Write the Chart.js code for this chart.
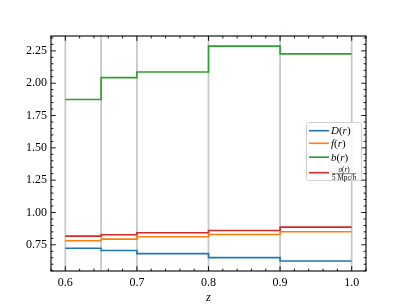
<!DOCTYPE html>
<html>
<head>
<meta charset="utf-8">
<script src="https://cdn.jsdelivr.net/npm/chart.js@4.4.0/dist/chart.umd.min.js"></script>
<style>
  html, body { margin: 0; padding: 0; background: #fff; }
  #caixa { width: 407px; height: 305px; }
</style>
</head>
<body>
<div id="caixa"><canvas id="grafico" width="407" height="305"></canvas></div>
<script>
// ==========================================
// 1. DADOS
// ==========================================

// bordas dos bins em z (também onde ficam as linhas cinzas)
const zBordas = [0.6, 0.65, 0.7, 0.8, 0.9, 1.0];

// valor de cada bin (5 bins)
const valD = [0.724, 0.706, 0.682, 0.651, 0.625];
const valF = [0.781, 0.794, 0.812, 0.830, 0.851];
const valB = [1.874, 2.043, 2.087, 2.287, 2.227];
const valSigma = [0.817, 0.828, 0.843, 0.861, 0.887];

const ticksX = [0.6, 0.7, 0.8, 0.9, 1.0];
const ticksY = [0.75, 1.0, 1.25, 1.5, 1.75, 2.0, 2.25];

const FONTE = "'Liberation Serif', 'DejaVu Serif', serif";

// transforma bins em pontos para linha em degrau
function degraus(vals) {
    return zBordas.map((z, i) => ({ x: z, y: vals[Math.min(i, vals.length - 1)] }));
}

// ==========================================
// 2. PLUGIN: linhas verticais, moldura, ticks internos, legenda
// ==========================================

function escreveRuns(ctx, runs, x, y, tam) {
    // runs: [texto, italico?]
    let cx = x;
    runs.forEach(([txt, ital]) => {
        ctx.font = (ital ? "italic " : "") + tam + "px " + FONTE;
        ctx.fillText(txt, cx, y);
        cx += ctx.measureText(txt).width;
    });
    return cx;
}

const extras = {
    id: "extras",
    beforeDatasetsDraw(chart) {
        const { ctx, chartArea: a, scales: { x } } = chart;
        ctx.save();
        ctx.strokeStyle = "#c8c8c8";
        ctx.lineWidth = 1.8;
        zBordas.forEach((z) => {
            const px = x.getPixelForValue(z);
            ctx.beginPath();
            ctx.moveTo(px, a.top);
            ctx.lineTo(px, a.bottom);
            ctx.stroke();
        });
        ctx.restore();
    },
    afterDatasetsDraw(chart) {
        const { ctx, chartArea: a, scales: { x, y } } = chart;
        ctx.save();
        ctx.strokeStyle = "#000";
        ctx.lineWidth = 0.9;

        const marca = (px, vertical, len) => {
            ctx.beginPath();
            if (vertical) {
                ctx.moveTo(px, a.bottom); ctx.lineTo(px, a.bottom - len);
                ctx.moveTo(px, a.top); ctx.lineTo(px, a.top + len);
            } else {
                ctx.moveTo(a.left, px); ctx.lineTo(a.left + len, px);
                ctx.moveTo(a.right, px); ctx.lineTo(a.right - len, px);
            }
            ctx.stroke();
        };

        // ticks maiores
        ticksX.forEach((v) => marca(x.getPixelForValue(v), true, 4.8));
        ticksY.forEach((v) => marca(y.getPixelForValue(v), false, 4.8));

        // ticks menores
        for (let i = 29; i <= 51; i++) {
            const v = i * 0.02;
            if (i % 5 === 0 || v < x.min || v > x.max) continue;
            marca(x.getPixelForValue(v), true, 2.4);
        }
        for (let i = 11; i <= 47; i++) {
            const v = i * 0.05;
            if (i % 5 === 0 || v < y.min || v > y.max) continue;
            marca(y.getPixelForValue(v), false, 2.4);
        }

        // moldura
        ctx.lineWidth = 1.1;
        ctx.strokeRect(a.left, a.top, a.right - a.left, a.bottom - a.top);
        ctx.restore();
    },
    afterDraw(chart) {
        const { ctx, data } = chart;
        ctx.save();
        // caixa da legenda
        const bx = 306.5, by = 122.5, bw = 55, bh = 58;
        ctx.fillStyle = "rgba(255,255,255,0.85)";
        ctx.strokeStyle = "#d0d0d0";
        ctx.lineWidth = 1;
        ctx.beginPath();
        ctx.roundRect(bx, by, bw, bh, 2);
        ctx.fill();
        ctx.stroke();

        const linhasY = [130.7, 143.3, 157.2, 172.7];
        const textos = [
            [["D", true], ["(", false], ["r", true], [")", false]],
            [["f", true], ["(", false], ["r", true], [")", false]],
            [["b", true], ["(", false], ["r", true], [")", false]],
        ];
        data.datasets.forEach((ds, i) => {
            const ly = linhasY[i];
            ctx.strokeStyle = ds.borderColor;
            ctx.lineWidth = 1.6;
            ctx.beginPath();
            ctx.moveTo(309, ly);
            ctx.lineTo(329, ly);
            ctx.stroke();
            ctx.fillStyle = "#000";
            ctx.textBaseline = "middle";
            if (i < 3) {
                escreveRuns(ctx, textos[i], 331, ly + 0.5, 11);
            } else {
                // fração sigma(r) / 5 Mpc/h
                const tam = 7.2;
                const num = [["σ", true], ["(", false], ["r", true], [")", false]];
                const den = [["5", false], [" Mpc/", false], ["h", true]];
                const larg = (runs) => runs.reduce((s, [t, it]) => {
                    ctx.font = (it ? "italic " : "") + tam + "px " + FONTE;
                    return s + ctx.measureText(t).width;
                }, 0);
                const wn = larg(num), wd = larg(den);
                const w = Math.max(wn, wd);
                const x0 = 332;
                escreveRuns(ctx, num, x0 + (w - wn) / 2, ly - 3, tam);
                escreveRuns(ctx, den, x0 + (w - wd) / 2, ly + 5, tam);
                ctx.strokeStyle = "#000";
                ctx.lineWidth = 0.5;
                ctx.beginPath();
                ctx.moveTo(x0, ly + 1);
                ctx.lineTo(x0 + w, ly + 1);
                ctx.stroke();
            }
        });
        ctx.restore();
    },
};

// ==========================================
// 3. GRÁFICO
// ==========================================

const serie = (label, vals, cor) => ({
    label: label,
    data: degraus(vals),
    borderColor: cor,
    backgroundColor: cor,
    borderWidth: 1.6,
    stepped: true,
    pointRadius: 0,
    fill: false,
});

const ctx = document.getElementById("grafico").getContext("2d");
const grafico = new Chart(ctx, {
    type: "line",
    data: {
        datasets: [
            serie("D(r)", valD, "#1f77b4"),
            serie("f(r)", valF, "#ff7f0e"),
            serie("b(r)", valB, "#2ca02c"),
            serie("σ(r)/(5 Mpc/h)", valSigma, "#d62728"),
        ],
    },
    options: {
        responsive: false,
        animation: false,
        devicePixelRatio: 1,
        layout: { padding: { left: 0, top: 36, right: 41, bottom: 0 } },
        plugins: { legend: { display: false }, tooltip: { enabled: false } },
        scales: {
            x: {
                type: "linear",
                min: 0.58,
                max: 1.02,
                afterBuildTicks: (s) => { s.ticks = ticksX.map((v) => ({ value: v })); },
                afterFit: (s) => { s.height = 34; },
                grid: { display: false, drawTicks: false },
                border: { display: false },
                ticks: {
                    color: "#000",
                    padding: 5,
                    maxRotation: 0,
                    font: { family: FONTE, size: 12 },
                    callback: (v) => v.toFixed(1),
                },
                title: {
                    display: true,
                    text: "z",
                    color: "#000",
                    padding: { top: 0, bottom: 0 },
                    font: { family: FONTE, size: 12.5, style: "italic" },
                },
            },
            y: {
                type: "linear",
                min: 0.5475,
                max: 2.365,
                afterBuildTicks: (s) => { s.ticks = ticksY.map((v) => ({ value: v })); },
                afterFit: (s) => { s.width = 51; },
                grid: { display: false, drawTicks: false },
                border: { display: false },
                ticks: {
                    color: "#000",
                    padding: 4,
                    font: { family: FONTE, size: 12 },
                    callback: (v) => v.toFixed(2),
                },
            },
        },
    },
    plugins: [extras],
});
</script>
</body>
</html>
